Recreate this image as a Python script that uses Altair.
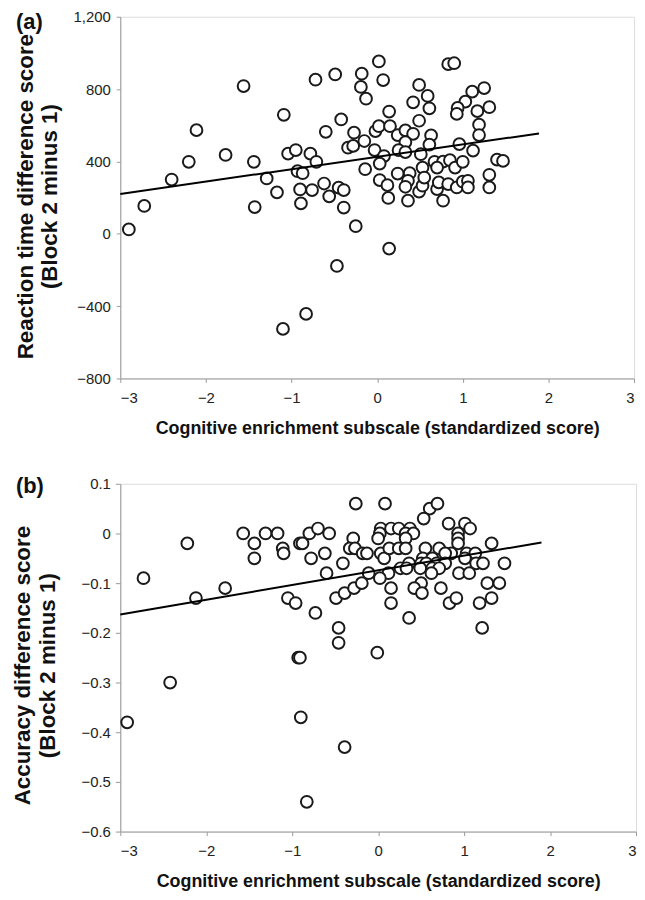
import altair as alt
import pandas as pd

# ---------- Panel (a): reaction time ----------
rt_x = [-2.90, -2.72, -2.40, -2.20, -2.11, -1.77, -1.56, -1.44, -1.43, -1.29,
        -1.17, -1.09, -1.04, -0.95, -0.93, -0.87, -0.90, -0.89, -0.78, -0.76,
        -0.72, -0.71, -0.62, -0.60, -0.56, -0.49, -0.45, -0.42, -0.39, -0.39,
        -0.34, -0.28, -0.27, -0.25, -0.19, -0.18, -0.15, -0.13, -0.14,
        -1.10, -0.83, -0.47,
        0.02, 0.07, 0.83, 0.90, 0.49, 0.59, 0.42, 0.61, 0.14, 0.49,
        1.11, 1.25, 1.03, 0.94, 0.93, 1.17, 1.31, 1.19, 1.19, -0.02,
        0.02, 0.15, 0.24, 0.33, 0.42, 0.33, 0.63, 0.61, 0.96, 1.12,
        -0.03, 0.08, 0.25, 0.33, 0.51, 0.03, 0.24, 0.38, 0.36, 0.53,
        0.67, 0.77, 0.85, 0.91, 1.00, 0.70, 1.40, 1.47, 1.31, 1.31,
        0.03, 0.12, 0.13, 0.33, 0.36, 0.49, 0.53, 0.55, 0.70, 0.72,
        0.83, 0.93, 1.00, 1.06, 1.06, 0.77, 0.14]
rt_y = [24, 154, 300, 398, 573, 436, 817, 398, 148, 306,
        229, 658, 443, 463, 346, 335, 245, 168, 443, 242,
        852, 398, 278, 564, 207, 881, 255, 632, 242, 145,
        476, 486, 559, 42, 812, 885, 513, 747, 357,
        -526, -443, -178,
        953, 850, 938, 943, 823, 762, 727, 694, 676, 625,
        786, 806, 731, 696, 663, 678, 700, 603, 546, 568,
        595, 595, 546, 572, 553, 507, 544, 493, 496, 460,
        463, 430, 462, 452, 440, 388, 333, 335, 293, 366,
        398, 399, 407, 366, 398, 366, 410, 403, 326, 256,
        297, 269, 198, 260, 183, 233, 266, 311, 247, 284,
        275, 256, 288, 293, 256, 183, -82]
rt_line_x = [-3.0, 1.89]
rt_line_y = [220, 555]
rt_ticks_y = [-800, -600, -400, -200, 0, 200, 400, 600, 800, 1000, 1200]
rt_title = ["Reaction time difference score", "(Block 2 minus 1)"]

# ---------- Panel (b): accuracy ----------
acc_x = [-2.73, -2.22, -2.12, -1.78, -1.57, -1.44, -1.44, -1.31, -1.17, -1.11,
         -1.10, -1.05, -0.96, -0.93, -0.91, -0.91, -0.88, -0.80, -0.78, -0.73,
         -0.70, -0.62, -0.60, -0.57, -0.49, -0.46, -0.46, -0.41, -0.39, -0.29,
         -0.26, -0.33, -0.27, -0.28, -0.19, -0.18, -0.13, -0.11,
         -2.92, -2.42, -0.90, -0.39, -0.83,
         0.08, 0.60, 0.69, 0.53, 0.82, 1.01, 1.07, 0.93, 0.93, 0.93,
         0.03, 0.02, 0.00, 0.15, 0.24, 0.37, 0.32, 0.41, 0.32, 0.03,
         0.07, 0.13, 0.24, 0.32, 0.55, 0.71, 0.85, 0.52, 0.63, 0.78,
         1.03, 1.13, 1.01, 1.32, 0.36, 0.50, 0.56, 0.68, 0.78, 1.14,
         1.22, 1.47, 0.26, 0.33, 0.49, 0.63, 0.71, 0.12, 0.62, 0.94,
         1.06, 0.02, 0.50, 0.15, 0.42, 0.51, 0.73, 1.27, 1.41, 0.15,
         0.83, 0.91, 1.18, 1.32, 0.36, 1.21, -0.01]
acc_y = [-0.09, -0.02, -0.13, -0.11, 0.00, -0.02, -0.05, 0.00, 0.00, -0.03,
         -0.04, -0.13, -0.14, -0.25, -0.25, -0.02, -0.02, 0.00, -0.05, -0.16,
         0.01, -0.04, -0.08, 0.00, -0.13, -0.19, -0.22, -0.06, -0.12, -0.01,
         0.06, -0.03, -0.03, -0.11, -0.10, -0.04, -0.04, -0.08,
         -0.38, -0.30, -0.37, -0.43, -0.54,
         0.06, 0.05, 0.06, 0.03, 0.02, 0.02, 0.01, 0.00, -0.01, -0.02,
         0.01, 0.00, -0.01, 0.01, 0.01, 0.01, 0.00, 0.00, -0.01, -0.04,
         -0.05, -0.03, -0.03, -0.03, -0.03, -0.03, -0.04, -0.05, -0.05, -0.04,
         -0.04, -0.04, -0.05, -0.02, -0.06, -0.06, -0.06, -0.06, -0.06, -0.06,
         -0.06, -0.06, -0.07, -0.07, -0.07, -0.07, -0.07, -0.08, -0.08, -0.08,
         -0.08, -0.09, -0.10, -0.11, -0.11, -0.12, -0.11, -0.10, -0.10, -0.14,
         -0.14, -0.13, -0.14, -0.13, -0.17, -0.19, -0.24]
acc_line_x = [-3.0, 1.90]
acc_line_y = [-0.163, -0.018]
acc_ticks_y = [-0.6, -0.5, -0.4, -0.3, -0.2, -0.1, 0.0, 0.1]
acc_title = ["Accuracy difference score", "(Block 2 minus 1)"]

x_ticks = [-3, -2, -1, 0, 1, 2, 3]
x_title = "Cognitive enrichment subscale (standardized score)"

FONT = "Liberation Sans"
AXIS_GRAY = "#9a9a9a"


def text_at(s, x, y, size, angle=0, align="center"):
    return alt.Chart(pd.DataFrame({"t": [s]})).mark_text(
        align=align, baseline="middle", font=FONT, fontSize=size,
        fontWeight="bold", color="#111", angle=angle
    ).encode(text="t:N", x=alt.value(x), y=alt.value(y))


def panel(px, py, lx, ly, ydom, yticks, ylabel_expr, ytitle, tag, tag_x, tag_y,
          w, h, tick_y, lab_pad_y, t1x, t2x, ty):
    pts = pd.DataFrame({"x": px, "y": py})
    ln = pd.DataFrame({"x": lx, "y": ly})
    xs = alt.Scale(domain=[-3, 3], nice=False, zero=False)
    ys = alt.Scale(domain=ydom, nice=False, zero=False)
    xaxis = alt.Axis(values=x_ticks, format="d", title=x_title, grid=False,
                     tickSize=4, labelPadding=8, titlePadding=14,
                     labelFontSize=15, titleFontSize=18, titleFontWeight="bold",
                     labelColor="#222", titleColor="#111", domainColor=AXIS_GRAY,
                     tickColor=AXIS_GRAY, labelFont=FONT, titleFont=FONT,
                     labelOverlap=False)
    yaxis = alt.Axis(values=yticks, labelExpr=ylabel_expr, title=None, grid=False,
                     tickSize=tick_y, labelPadding=lab_pad_y,
                     labelFontSize=15, labelOverlap=False, labelSeparation=0,
                     labelColor="#222", domainColor=AXIS_GRAY,
                     tickColor=AXIS_GRAY, labelFont=FONT)
    scatter = alt.Chart(pts).mark_point(
        shape="circle", filled=False, fill="white", fillOpacity=1,
        stroke="#1a1a1a", strokeWidth=2, size=140, opacity=1
    ).encode(x=alt.X("x:Q", scale=xs, axis=xaxis),
             y=alt.Y("y:Q", scale=ys, axis=yaxis))
    line = alt.Chart(ln).mark_line(color="black", strokeWidth=2).encode(
        x=alt.X("x:Q", scale=xs), y=alt.Y("y:Q", scale=ys))
    lab = text_at(tag, tag_x, tag_y, 22, align="left")
    t1 = text_at(ytitle[0], t1x, ty, 22.5, angle=270)
    t2 = text_at(ytitle[1], t2x, ty, 22.5, angle=270)
    return alt.layer(scatter, line, lab, t1, t2).properties(width=w, height=h)


top = panel(rt_x, rt_y, rt_line_x, rt_line_y, [-800, 1200], rt_ticks_y,
            "format(datum.value, ',d')", rt_title,
            "(a)", -105, 5, 517, 364, 4, 6, -95, -71, 181)

bottom = panel(acc_x, acc_y, acc_line_x, acc_line_y, [-0.6, 0.1], acc_ticks_y,
               "datum.value == 0 ? '0' : format(datum.value, '.1f')", acc_title,
               "(b)", -105, 2, 519, 350, 5, 5, -98, -73, 183)

chart = alt.vconcat(top, bottom, spacing=36).properties(
    padding={"left": 3, "top": -2, "right": 0, "bottom": 0}
).configure_view(stroke=None).configure_axis(
    labelOverlap=False, labelSeparation=0
).configure(background="white")

chart.save("out.html", embed_options={"renderer": "svg", "actions": False})
